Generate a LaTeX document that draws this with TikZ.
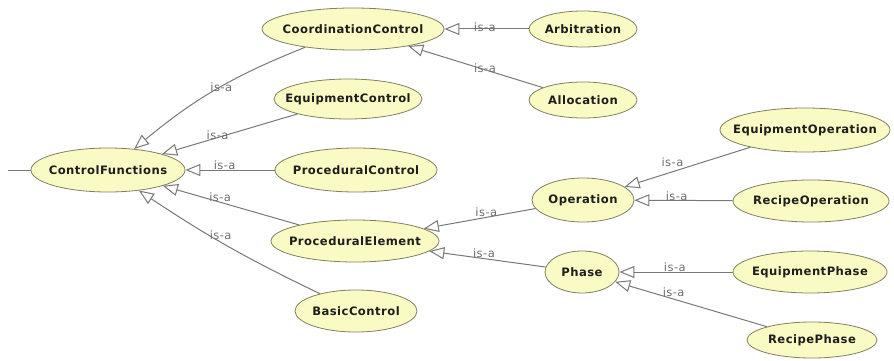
\documentclass[tikz,border=0pt]{standalone}
\usepackage{fontspec}
\usetikzlibrary{arrows.meta,shapes.geometric}
\newfontfamily\classfont[LetterSpace=4]{DejaVu Sans}
\newfontfamily\relfont[LetterSpace=4]{DejaVu Sans}
\definecolor{classfill}{RGB}{250,250,196}
\definecolor{classline}{RGB}{128,128,96}
\definecolor{edgegray}{RGB}{120,120,120}
\definecolor{labelgray}{RGB}{110,110,110}
\definecolor{classtext}{RGB}{30,30,30}
% class names are set in a zero-width box so the ellipse keeps its given size
\newcommand{\clsname}[1]{\makebox[0pt]{#1}}
\tikzset{
  cls/.style={ellipse, draw=classline, fill=classfill, line width=0.8pt,
    inner sep=0pt, text=classtext, font=\classfont\bfseries\fontsize{11.6}{13}\selectfont},
  isa/.style={draw=edgegray, line width=1pt,
    -{Triangle[open, length=15pt, width=12pt, fill=white]}},
  rel/.style={text=labelgray, font=\relfont\fontsize{11.5}{13}\selectfont, inner sep=0pt},
  stub/.style={draw=edgegray, line width=1pt}
}
\begin{document}
\begin{tikzpicture}[x=1pt, y=-1pt]
\useasboundingbox (0,0) rectangle (894,361);

% classes
\node[cls, minimum width=154pt, minimum height=44pt] (cf) at (108,170) {\clsname{ControlFunctions}};
\node[cls, minimum width=182pt, minimum height=42pt] (cc) at (353,29) {\clsname{CoordinationControl}};
\node[cls, minimum width=108pt, minimum height=36pt] (arb) at (583,29) {\clsname{Arbitration}};
\node[cls, minimum width=108pt, minimum height=36pt] (alloc) at (583,100) {\clsname{Allocation}};
\node[cls, minimum width=148pt, minimum height=40pt] (ec) at (348,99) {\clsname{EquipmentControl}};
\node[cls, minimum width=162pt, minimum height=44pt] (pc) at (356,170) {\clsname{ProceduralControl}};
\node[cls, minimum width=168pt, minimum height=42pt] (pe) at (355,241) {\clsname{ProceduralElement}};
\node[cls, minimum width=122pt, minimum height=42pt] (bc) at (356,311) {\clsname{BasicControl}};
\node[cls, minimum width=102pt, minimum height=44pt] (op) at (583,200) {\clsname{Operation}};
\node[cls, minimum width=170pt, minimum height=44pt] (eo) at (805,130) {\clsname{EquipmentOperation}};
\node[cls, minimum width=156pt, minimum height=42pt] (ro) at (811,201) {\clsname{RecipeOperation}};
\node[cls, minimum width=74pt, minimum height=42pt] (ph) at (582,272) {\clsname{Phase}};
\node[cls, minimum width=154pt, minimum height=42pt] (ep) at (810,272) {\clsname{EquipmentPhase}};
\node[cls, minimum width=130pt, minimum height=36pt] (rp) at (812,340) {\clsname{RecipePhase}};

% incoming stub on the root class
\coordinate (stubend) at (8,170);
\draw[stub] (stubend) -- (cf.west);

% subclass relations
\draw[isa] (cc) to[bend right=9] node[rel, pos=0.46, yshift=-1pt] {is-a} (cf);
\draw[isa] (ec) -- node[rel, pos=0.59, yshift=2pt] {is-a} (cf);
\draw[isa] (pc) -- node[rel, pos=0.56, yshift=5pt] {is-a} (cf);
\draw[isa] (pe) -- node[rel, pos=0.58, yshift=5pt] {is-a} (cf);
\draw[isa] (bc) to[bend left=4] node[rel, pos=0.54, yshift=7pt] {is-a} (cf);

\draw[isa] (arb) -- node[rel, pos=0.52, yshift=2pt] {is-a} (cc);
\draw[isa] (alloc) -- node[rel, pos=0.43, yshift=2pt] {is-a} (cc);

\draw[isa] (op) -- node[rel, pos=0.44, yshift=5pt] {is-a} (pe);
\draw[isa] (ph) -- node[rel, pos=0.53, yshift=5pt] {is-a} (pe);

\draw[isa] (eo) -- node[rel, pos=0.62, yshift=10pt] {is-a} (op);
\draw[isa] (ro) -- node[rel, pos=0.57, yshift=4pt] {is-a} (op);

\draw[isa] (ep) -- node[rel, pos=0.51, yshift=5pt] {is-a} (ph);
\draw[isa] (rp) -- node[rel, pos=0.615, yshift=7pt] {is-a} (ph);
\end{tikzpicture}
\end{document}
